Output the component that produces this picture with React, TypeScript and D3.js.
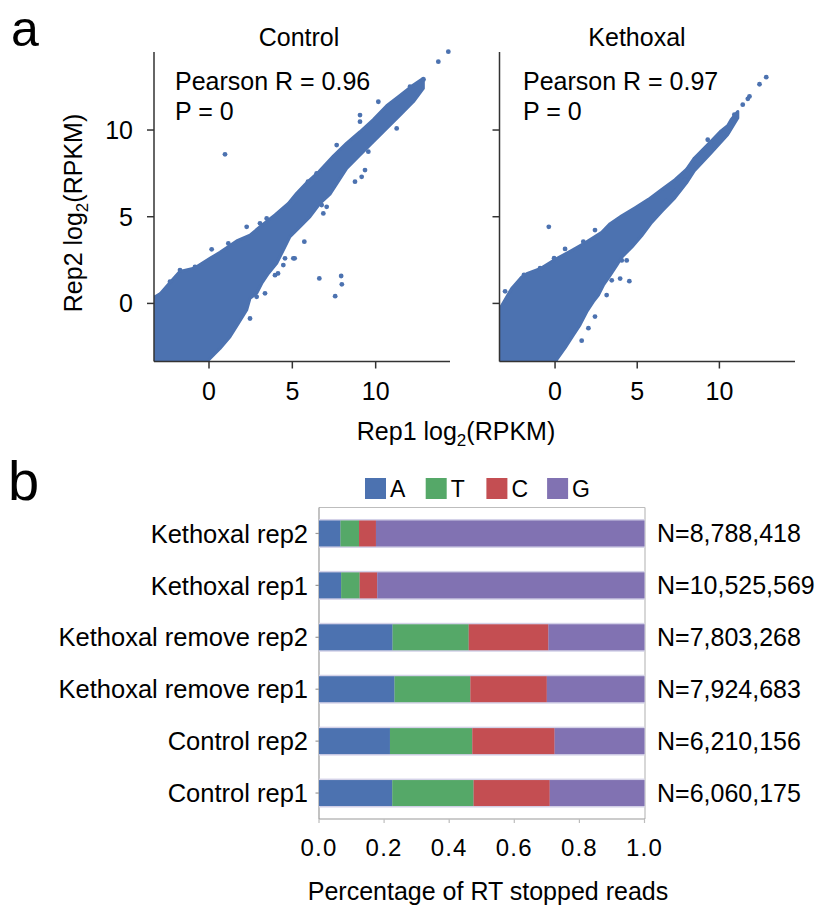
import React from "react";
import * as d3 from "d3";

// ---------- Panel a data ----------
const scatterTicks = [0, 5, 10];
const scatterTitles = ["Control", "Kethoxal"];
const pearsonR = ["0.96", "0.97"];
const pValues = ["0", "0"];

// Outline of the dense point cloud (upper edge then lower edge), data coordinates
const controlCloud: [number, number][] = [
  [-3.6, 0.38], [-3.24, 0.38], [-2.94, 0.55], [-2.34, 1.2], [-1.74, 1.85], [-0.84, 2.05],
  [0.06, 2.6], [0.66, 2.95], [1.66, 3.6], [2.46, 3.94], [3.1, 4.45], [3.96, 5.1],
  [4.76, 5.77], [5.26, 6.35], [5.9, 7.0], [6.6, 7.6], [7.46, 8.5], [8.26, 9.25],
  [9.06, 9.9], [9.86, 10.6], [10.66, 11.4], [11.46, 12.0], [12.26, 12.6], [12.86, 12.98],
  [12.86, 12.4], [12.26, 11.63], [11.46, 10.86], [10.66, 10.09], [9.86, 9.33], [9.06, 8.56],
  [8.26, 7.79], [7.26, 6.3], [6.66, 5.77], [6.06, 5.0], [5.36, 4.33], [4.86, 3.85],
  [4.46, 3.08], [4.06, 2.31], [3.56, 1.73], [3.16, 1.15], [2.86, 0.58], [2.46, 0.29],
  [2.26, -0.38], [1.76, -1.15], [1.26, -1.92], [0.66, -2.6], [-0.04, -3.27], [-0.1, -3.6],
  [-3.6, -3.6],
];
const controlPoints: [number, number][] = [
  [0.96, 8.6], [6.62, 1.44], [7.93, 1.58], [7.97, 1.1], [7.57, 0.42], [13.76, 13.94],
  [14.36, 14.52], [9.06, 10.86], [9.06, 10.48], [10.16, 11.63], [11.26, 10.09], [9.56, 8.75],
  [9.36, 7.69], [9.16, 7.3], [8.76, 7.02], [6.76, 5.67], [7.06, 5.57], [6.46, 7.5],
  [7.66, 9.13], [12.06, 12.5], [12.87, 12.92], [5.06, 2.6], [4.56, 2.6], [4.46, 2.21],
  [5.72, 3.56], [3.96, 1.63], [3.36, 0.58], [2.86, 0.38], [2.46, -0.87], [0.16, 3.12],
  [1.16, 3.46], [2.26, 4.42], [3.06, 4.62], [3.46, 4.9], [-2.94, 0.48], [-2.34, 1.25],
  [-1.74, 1.92], [5.94, 7.02], [6.86, 5.19], [5.14, 2.6], [4.14, 1.73], [-0.84, 2.1],
];
const kethoxalCloud: [number, number][] = [
  [-3.6, -0.3], [-3.35, -0.29], [-2.64, 0.86], [-2.03, 1.52], [-1.72, 1.71], [-0.91, 2.0],
  [-0.1, 2.48], [1.0, 3.05], [1.83, 3.5], [2.84, 4.1], [3.35, 4.6], [4.06, 5.05],
  [4.87, 5.52], [5.68, 6.0], [6.49, 6.57], [7.3, 7.14], [8.01, 7.75], [8.48, 8.39],
  [9.29, 9.16], [9.49, 9.35], [10.1, 9.95], [10.5, 10.25], [10.71, 10.59], [11.12, 11.07],
  [11.12, 10.69], [10.5, 9.73], [9.49, 8.68], [8.48, 7.65], [8.0, 6.95], [7.3, 6.1],
  [6.49, 5.3], [5.88, 4.67], [5.27, 3.9], [4.67, 3.24], [4.06, 2.67], [3.75, 2.19],
  [3.35, 1.62], [2.94, 1.05], [2.64, 0.48], [2.33, 0.1], [1.93, -0.48], [1.52, -1.24],
  [1.12, -1.81], [0.61, -2.57], [0.1, -3.24], [0.05, -3.6], [-3.6, -3.6],
];
const kethoxalPoints: [number, number][] = [
  [-0.38, 4.42], [12.85, 13.05], [12.44, 12.64], [11.83, 11.94], [11.73, 11.8], [11.42, 11.46],
  [10.91, 10.88], [0.61, 3.14], [2.43, 4.23], [1.72, 3.56], [-0.06, 2.61], [-0.91, 2.04],
  [-3.04, 0.7], [-1.89, 1.65], [4.52, 1.28], [4.06, 2.48], [4.36, 2.48], [3.96, 1.43],
  [3.45, 1.33], [3.14, 0.48], [2.43, -0.76], [2.03, -1.43], [1.62, -2.15], [6.84, 5.87],
  [7.3, 6.48], [8.07, 7.72], [9.29, 9.44], [6.75, 5.9], [7.91, 7.14], [9.7, 9.1],
];

// ---------- Panel b data ----------
const sampleLabels = [
  "Kethoxal rep2", "Kethoxal rep1", "Kethoxal remove rep2",
  "Kethoxal remove rep1", "Control rep2", "Control rep1",
];
const readCounts = [
  "N=8,788,418", "N=10,525,569", "N=7,803,268", "N=7,924,683", "N=6,210,156", "N=6,060,175",
];
const nucleotides = ["A", "T", "C", "G"];
const fracA = [0.066, 0.068, 0.226, 0.232, 0.218, 0.225];
const fracT = [0.057, 0.057, 0.234, 0.233, 0.253, 0.25];
const fracC = [0.052, 0.054, 0.245, 0.235, 0.253, 0.234];
const fracG = [0.825, 0.821, 0.295, 0.3, 0.276, 0.291];
const barTicks = [0, 0.2, 0.4, 0.6, 0.8, 1.0];

const nucColors = ["#4C72B0", "#55A868", "#C44E52", "#8172B2"];
const DOT = "#4C72B0";
const FONT = "'Liberation Sans', Arial, Helvetica, sans-serif";

function ScatterPanel(props: {
  left: number; right: number; top: number; bottom: number;
  xDomain: [number, number]; yDomain: [number, number];
  cloud: [number, number][]; pts: [number, number][];
  title: string; titleX: number; r: string; p: string; statX: number;
  showYLabels: boolean; id: string;
}) {
  const { left, right, top, bottom } = props;
  const x = d3.scaleLinear().domain(props.xDomain).range([left, right]);
  const y = d3.scaleLinear().domain(props.yDomain).range([bottom, top]);
  const line = d3.line<[number, number]>().x((d) => x(d[0])).y((d) => y(d[1])).curve(d3.curveLinearClosed);
  return (
    <g>
      <defs>
        <clipPath id={props.id}>
          <rect x={left} y={top - 6} width={right - left + 6} height={bottom - top + 6} />
        </clipPath>
      </defs>
      <g clipPath={`url(#${props.id})`}>
        <path d={line(props.cloud) || ""} fill={DOT} stroke={DOT} strokeWidth={3} strokeLinejoin="round" />
        {props.pts.map((d, i) => (
          <circle key={i} cx={x(d[0])} cy={y(d[1])} r={2.4} fill={DOT} />
        ))}
      </g>
      <line x1={left} x2={left} y1={top} y2={bottom} stroke="#333" strokeWidth={1.5} />
      <line x1={left} x2={right} y1={bottom} y2={bottom} stroke="#333" strokeWidth={1.5} />
      {scatterTicks.map((t) => (
        <g key={"x" + t}>
          <line x1={x(t)} x2={x(t)} y1={bottom} y2={bottom + 7} stroke="#333" strokeWidth={1.5} />
          <text x={x(t)} y={bottom + 38} textAnchor="middle" fontSize={25}>{t}</text>
        </g>
      ))}
      {scatterTicks.map((t) => (
        <g key={"y" + t}>
          <line x1={left - 7} x2={left} y1={y(t)} y2={y(t)} stroke="#333" strokeWidth={1.5} />
          {props.showYLabels && (
            <text x={left - 21} y={y(t)} dy="0.36em" textAnchor="end" fontSize={25}>{t}</text>
          )}
        </g>
      ))}
      <text x={props.titleX} y={46} textAnchor="middle" fontSize={25}>{props.title}</text>
      <text x={props.statX} y={90} fontSize={25}>Pearson R = {props.r}</text>
      <text x={props.statX} y={120} fontSize={25}>P = {props.p}</text>
    </g>
  );
}

export default function App() {
  const W = 821, H = 911;
  const bx = d3.scaleLinear().domain([0, 1]).range([319, 644.5]);
  const by = d3.scaleBand<string>().domain(sampleLabels).range([507.5, 819]).paddingInner(0.5).paddingOuter(0.25);
  const rows = sampleLabels.map((s, i) => ({ sample: s, A: fracA[i], T: fracT[i], C: fracC[i], G: fracG[i] }));
  const stack = d3.stack<any>().keys(nucleotides)(rows);
  const bw = by.bandwidth();

  return (
    <svg width={W} height={H} style={{ position: "absolute", left: 0, top: 0, background: "#fff" }} fontFamily={FONT} fill="#000">
      <rect x={0} y={0} width={W} height={H} fill="#fff" />
      {/* Panel a */}
      <text x={11} y={45.5} fontSize={50}>a</text>
      <ScatterPanel id="clipA" left={154} right={450} top={52} bottom={361.5}
        xDomain={[-3.3, 14.46]} yDomain={[-3.35, 14.5]}
        cloud={controlCloud} pts={controlPoints}
        title={scatterTitles[0]} titleX={299} r={pearsonR[0]} p={pValues[0]} statX={175} showYLabels={true} />
      <ScatterPanel id="clipB" left={499.5} right={795} top={52} bottom={361.5}
        xDomain={[-3.38, 14.6]} yDomain={[-3.35, 14.5]}
        cloud={kethoxalCloud} pts={kethoxalPoints}
        title={scatterTitles[1]} titleX={637} r={pearsonR[1]} p={pValues[1]} statX={523} showYLabels={false} />
      <text x={456} y={440} textAnchor="middle" fontSize={25}>
        Rep1 log<tspan fontSize={17} dy={6}>2</tspan><tspan dy={-6}>(RPKM)</tspan>
      </text>
      <text transform="translate(82,213) rotate(-90)" textAnchor="middle" fontSize={25}>
        Rep2 log<tspan fontSize={17} dy={6}>2</tspan><tspan dy={-6}>(RPKM)</tspan>
      </text>

      {/* Panel b */}
      <text x={8} y={500} fontSize={56}>b</text>
      {nucleotides.map((n, i) => (
        <g key={n}>
          <rect x={365 + i * 60.7} y={478} width={21} height={21} fill={nucColors[i]} />
          <text x={390 + i * 60.7} y={497} fontSize={23}>{n}</text>
        </g>
      ))}
      <line x1={319} x2={645} y1={507.5} y2={507.5} stroke="#bdbdbd" strokeWidth={1.2} />
      <line x1={645} x2={645} y1={507.5} y2={819} stroke="#bdbdbd" strokeWidth={1.2} />
      <line x1={319} x2={319} y1={507.5} y2={819} stroke="#9a9a9a" strokeWidth={1.2} />
      <line x1={319} x2={645} y1={819} y2={819} stroke="#9a9a9a" strokeWidth={1.2} />
      {sampleLabels.map((s) => (
        <rect key={"bg" + s} x={bx(0)} y={(by(s) as number) - 1.5} width={bx(1) - bx(0)} height={bw + 3} fill="#d4d2e8" />
      ))}
      {stack.map((layer, li) => (
        <g key={layer.key} fill={nucColors[li]}>
          {layer.map((d: any, i: number) => (
            <rect key={i} x={bx(d[0])} y={by(sampleLabels[i])} width={bx(d[1]) - bx(d[0])} height={bw} />
          ))}
        </g>
      ))}
      {sampleLabels.map((s, i) => (
        <g key={"lab" + s}>
          <line x1={315.5} x2={319} y1={(by(s) as number) + bw / 2} y2={(by(s) as number) + bw / 2} stroke="#9a9a9a" strokeWidth={1.2} />
          <text x={308} y={(by(s) as number) + bw / 2} dy="0.36em" textAnchor="end" fontSize={25.5}>{s}</text>
          <text x={657} y={(by(s) as number) + bw / 2} dy="0.36em" fontSize={25}>{readCounts[i]}</text>
        </g>
      ))}
      {barTicks.map((t) => (
        <g key={"bt" + t}>
          <line x1={bx(t)} x2={bx(t)} y1={819} y2={823} stroke="#bdbdbd" strokeWidth={1.2} />
          <text x={bx(t)} y={856} textAnchor="middle" fontSize={24} letterSpacing={1.2}>{d3.format(".1f")(t)}</text>
        </g>
      ))}
      <text x={488} y={900} textAnchor="middle" fontSize={25}>Percentage of RT stopped reads</text>
    </svg>
  );
}
